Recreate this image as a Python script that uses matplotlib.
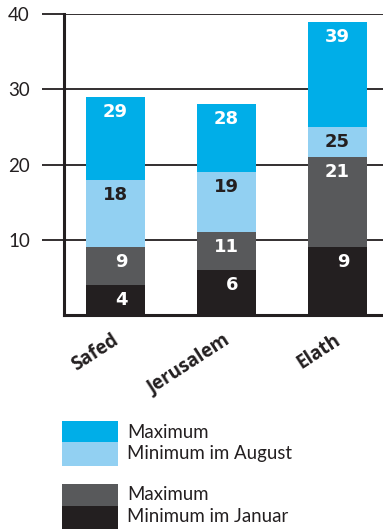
import matplotlib
matplotlib.use("Agg")
import matplotlib.pyplot as plt
from matplotlib.patches import Rectangle

cities = ["Safed", "Jerusalem", "Elath"]
max_aug = [29, 28, 39]
min_aug = [18, 19, 25]
max_jan = [9, 11, 21]
min_jan = [4, 6, 9]
yticks = [10, 20, 30, 40]
legend_labels = ["Maximum", "Minimum im August", "Maximum", "Minimum im Januar"]

C_BLUE = "#00AEE8"
C_LBLUE = "#92D0F2"
C_GREY = "#58595B"
C_BLACK = "#231F20"
INK = "#231F20"

W, H = 383, 529
fig = plt.figure(figsize=(W / 100, H / 100), dpi=100)
ax = fig.add_axes([64 / W, 1 - 315 / H, 1 - 64 / W, (315 - 14) / H])

x = list(range(len(cities)))
bw = 0.53
series = [(max_aug, C_BLUE, "white"), (min_aug, C_LBLUE, INK),
          (max_jan, C_GREY, "white"), (min_jan, C_BLACK, "white")]
for z, (vals, col, tc) in enumerate(series):
    ax.bar(x, vals, width=bw, color=col, zorder=3 + z, linewidth=0)
    for xi, v in zip(x, vals):
        ax.text(xi + 0.11, v - 2.0, str(v), ha="right", va="center",
                color=tc, fontsize=13, fontweight="bold", family="DejaVu Sans",
                zorder=10)

ax.set_xlim(-0.464, 2.41)
ax.set_ylim(0, 40)
ax.set_yticks(yticks)
ax.set_yticklabels([str(t) for t in yticks], family="Lato", fontsize=13.5, color=INK)
ax.yaxis.grid(True, color=INK, linewidth=1.3, zorder=0)
ax.set_axisbelow(True)
ax.tick_params(axis="y", length=15.5, width=1.3, color=INK, pad=9)
ax.tick_params(axis="x", length=0)
ax.set_xticks(x)
ax.set_xticklabels([])
for s in ["top", "right"]:
    ax.spines[s].set_visible(False)
for s in ["left", "bottom"]:
    ax.spines[s].set_linewidth(2.2)
    ax.spines[s].set_color(INK)
    ax.spines[s].set_zorder(20)

for xi, name in zip(x, cities):
    ax.annotate(name, xy=(xi, 0), xytext=(-3, -11), textcoords="offset points",
                xycoords="data", ha="right", va="top", rotation=33,
                rotation_mode="anchor", fontsize=13.5, fontweight="bold",
                family="Open Sans", color=INK)

def px_rect(x0, y0, x1, y1, col):
    fig.add_artist(Rectangle((x0 / W, 1 - y1 / H), (x1 - x0) / W, (y1 - y0) / H,
                             transform=fig.transFigure, color=col, linewidth=0))

px_rect(62, 421, 118, 442, C_BLUE)
px_rect(62, 442, 118, 466, C_LBLUE)
px_rect(62, 484, 118, 506, C_GREY)
px_rect(62, 506, 118, 529, C_BLACK)
for lab, yc in zip(legend_labels, [432, 453, 494, 517]):
    fig.text(127 / W, 1 - yc / H, lab, ha="left", va="center", fontsize=13.4,
             family="Lato", color=INK)

fig.savefig("out.png", dpi=100)
